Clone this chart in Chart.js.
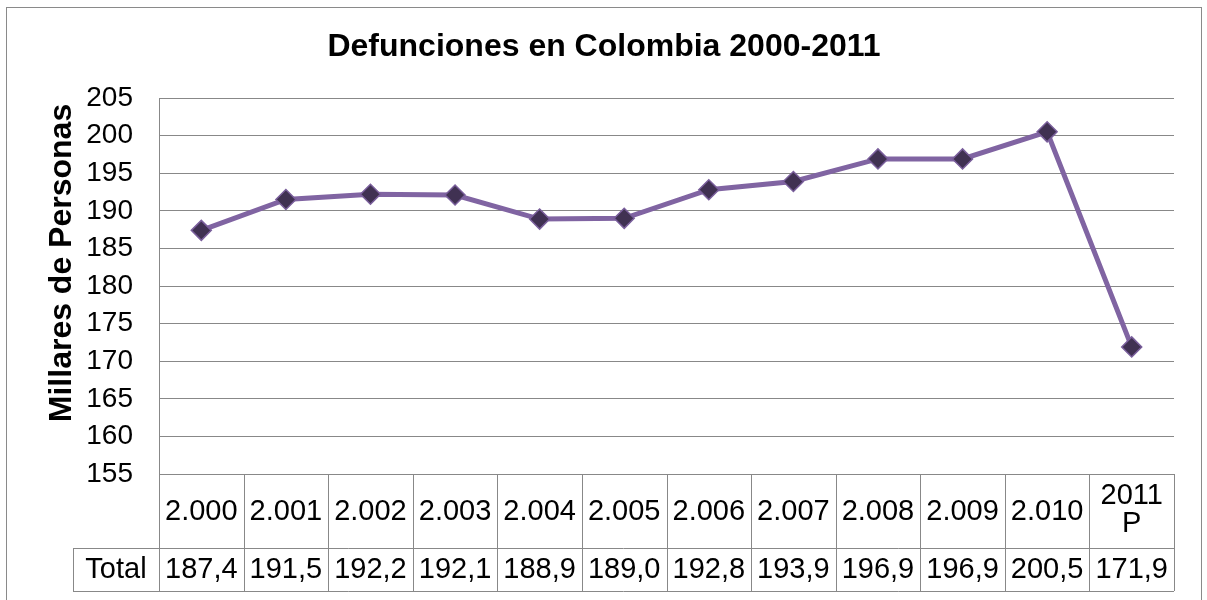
<!DOCTYPE html>
<html>
<head>
<meta charset="utf-8">
<script src="https://cdn.jsdelivr.net/npm/chart.js@4"></script>
<style>
  body { margin: 0; background: #fff; }
  canvas { display: block; }
</style>
</head>
<body>
<canvas id="lineChart" width="1207" height="600"></canvas>
<script>
const years = ["2.000", "2.001", "2.002", "2.003", "2.004", "2.005", "2.006", "2.007", "2.008", "2.009", "2.010", ["2011", "P"]];
const totals = [187.4, 191.5, 192.2, 192.1, 188.9, 189.0, 192.8, 193.9, 196.9, 196.9, 200.5, 171.9];
const seriesName = "Total";
const chartTitle = "Defunciones en Colombia 2000-2011";
const yTitle = "Millares de Personas";

const FONT = "'Liberation Sans', Arial, sans-serif";
const GRID = "#888888";

// draws the title, y title, outer frame and the data table under the plot
const tablePlugin = {
  id: "dataTable",
  afterDraw(chart) {
    const ctx = chart.ctx;
    const area = chart.chartArea;
    const x = chart.scales.x;
    const n = years.length;
    const step = (area.right - area.left) / n;
    const row1 = area.bottom;
    const row2 = row1 + 74;
    const row3 = row2 + 43;
    const labelLeft = 73;

    ctx.save();
    ctx.strokeStyle = GRID;
    ctx.lineWidth = 1;
    ctx.beginPath();
    // vertical separators
    for (let i = 0; i <= n; i++) {
      const px = Math.round(area.left + i * step) + 0.5;
      ctx.moveTo(px, row1);
      ctx.lineTo(px, row3);
    }
    ctx.moveTo(labelLeft + 0.5, row2);
    ctx.lineTo(labelLeft + 0.5, row3);
    ctx.moveTo(labelLeft, row2 + 0.5);
    ctx.lineTo(area.right, row2 + 0.5);
    ctx.moveTo(labelLeft, row3 + 0.5);
    ctx.lineTo(area.right, row3 + 0.5);
    ctx.stroke();

    // outer frame
    ctx.strokeStyle = "#8a8a8a";
    ctx.strokeRect(6.5, 7.5, 1195, 600);

    ctx.fillStyle = "#000";
    ctx.textAlign = "center";
    ctx.textBaseline = "middle";
    ctx.font = "29px " + FONT;
    years.forEach((lab, i) => {
      const cx = x.getPixelForValue(i);
      if (Array.isArray(lab)) {
        ctx.fillText(lab[0], cx, row1 + 22);
        ctx.fillText(lab[1], cx, row1 + 50);
      } else {
        ctx.fillText(lab, cx, row1 + 38);
      }
      ctx.fillText(totals[i].toFixed(1).replace(".", ","), cx, row2 + 22);
    });
    ctx.fillText(seriesName, (labelLeft + area.left) / 2, row2 + 22);

    ctx.font = "bold 32px " + FONT;
    ctx.fillText(chartTitle, 604, 47);

    ctx.translate(62, 263);
    ctx.rotate(-Math.PI / 2);
    ctx.fillText(yTitle, 0, 0);
    ctx.restore();
  }
};

new Chart(document.getElementById("lineChart").getContext("2d"), {
  type: "line",
  data: {
    labels: years,
    datasets: [
      {
        label: seriesName,
        data: totals,
        borderColor: "#8064a2",
        borderWidth: 5,
        pointStyle: "rectRot",
        pointRadius: 10,
        pointBackgroundColor: "#403152",
        pointBorderColor: "#7a5f9c",
        pointBorderWidth: 1.5,
        tension: 0,
      },
    ],
  },
  options: {
    responsive: false,
    animation: false,
    layout: { padding: { top: 98, right: 33, bottom: 126, left: 0 } },
    plugins: {
      legend: { display: false },
      title: { display: false },
      tooltip: { enabled: false },
    },
    scales: {
      x: {
        offset: true,
        ticks: { display: false },
        grid: { display: false },
        border: { display: false },
        afterFit(scale) {
          scale.height = 0;
        },
      },
      y: {
        min: 155,
        max: 205,
        ticks: {
          stepSize: 5,
          padding: 26,
          color: "#000",
          font: { family: FONT, size: 28 },
        },
        grid: { color: GRID, drawTicks: false },
        border: { color: GRID },
        afterFit(scale) {
          scale.width = 159;
        },
      },
    },
  },
  plugins: [tablePlugin],
});
</script>
</body>
</html>
